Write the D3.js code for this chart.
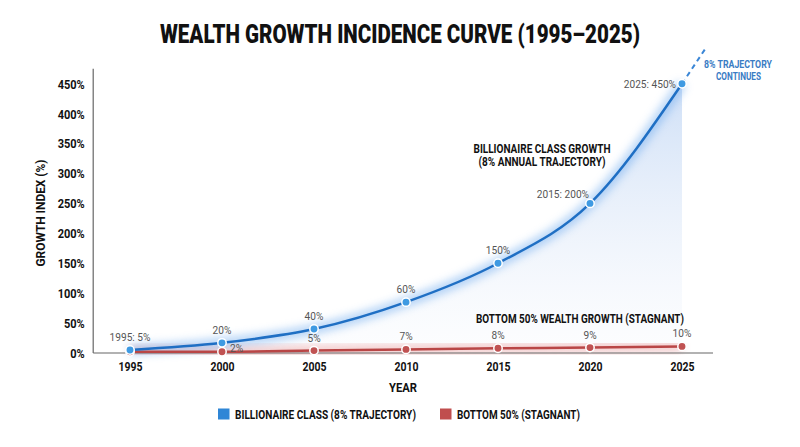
<!DOCTYPE html>
<html><head><meta charset="utf-8">
<script src="https://cdn.jsdelivr.net/npm/d3@7"></script>
<style>
html,body{margin:0;padding:0;background:#fff;}
svg{display:block;}
</style>
</head><body>
<svg id="chart" width="800" height="447"></svg>
<script>
const years = [1995, 2000, 2005, 2010, 2015, 2020, 2025];
const billionaireValues = [5, 17, 40, 85, 150, 250, 450];
const billionaireLabels = ["1995: 5%", "20%", "40%", "60%", "150%", "2015: 200%", "2025: 450%"];
const bottomValues = [2, 2, 4, 6, 8, 9, 11];
const bottomLabels = ["", "2%", "5%", "7%", "8%", "9%", "10%"];
const yTicks = [0, 50, 100, 150, 200, 250, 300, 350, 400, 450];
const continuationValue = 510;
const continuationYear = 2026.3;

const svg = d3.select("#chart");
const FONT = 'Roboto,"Noto Sans",sans-serif';
const BLUE = "#1f6fc4", BLUE_PT = "#3f9ae2", RED = "#b94646", RED_PT = "#c05252";

function fit(sel, w){ sel.attr("textLength", w).attr("lengthAdjust","spacingAndGlyphs"); return sel; }
function condense(sel, f){ sel.each(function(){ const l=this.getComputedTextLength(); d3.select(this).attr("textLength", l*f).attr("lengthAdjust","spacingAndGlyphs"); }); return sel; }

const x = d3.scaleLinear().domain([1993, 2027]).range([93.2, 718.8]);
const y = d3.scaleLinear().domain([0, 475]).range([353, 68.8]);

const defs = svg.append("defs");
const grad = defs.append("linearGradient").attr("id","areaGrad")
  .attr("gradientUnits","userSpaceOnUse").attr("x1",0).attr("x2",0).attr("y1",y(450)).attr("y2",y(0));
grad.append("stop").attr("offset","0%").attr("stop-color","#c9dcf6").attr("stop-opacity",0.9);
grad.append("stop").attr("offset","55%").attr("stop-color","#dde8f8").attr("stop-opacity",0.5);
grad.append("stop").attr("offset","100%").attr("stop-color","#eef3fb").attr("stop-opacity",0.15);
const blur = defs.append("filter").attr("id","glow").attr("x","-20%").attr("y","-50%").attr("width","140%").attr("height","200%");
blur.append("feGaussianBlur").attr("stdDeviation",4);

// Title
fit(svg.append("text").attr("x",400).attr("y",43).attr("text-anchor","middle")
  .style("font-family",FONT).style("font-weight","900").style("font-size","25px").attr("fill","#111")
  .text("WEALTH GROWTH INCIDENCE CURVE (1995–2025)"), 480);

const bData = years.map((yr,i)=>({year:yr, v:billionaireValues[i], label:billionaireLabels[i]}));
const rData = years.map((yr,i)=>({year:yr, v:bottomValues[i], label:bottomLabels[i]}));

const curve = d3.curveMonotoneX;
svg.append("path").datum(bData)
  .attr("d", d3.area().x(d=>x(d.year)).y0(y(0)).y1(d=>y(d.v)).curve(curve))
  .attr("fill","url(#areaGrad)");

const line = d3.line().x(d=>x(d.year)).y(d=>y(d.v)).curve(curve);
svg.append("path").datum(rData).attr("d",line).attr("fill","none")
  .attr("stroke","#e88a8a").attr("stroke-width",10).attr("opacity",0.45).attr("filter","url(#glow)");
svg.append("path").datum(bData).attr("d",line).attr("fill","none")
  .attr("stroke","#6aa8ee").attr("stroke-width",10).attr("opacity",0.5).attr("filter","url(#glow)");

// axes
svg.append("line").attr("x1",x(1993)).attr("x2",x(1993)).attr("y1",y(475)).attr("y2",y(0))
  .attr("stroke","#666").attr("stroke-width",1.2);
svg.append("line").attr("x1",x(1993)).attr("x2",713).attr("y1",y(0)).attr("y2",y(0))
  .attr("stroke","#666").attr("stroke-width",1.2);

const yAxis = svg.append("g").attr("transform",`translate(${x(1993)},0)`)
  .call(d3.axisLeft(y).tickValues(yTicks).tickSize(0).tickPadding(8.5).tickFormat(d=>d+"%"));
yAxis.select(".domain").remove();
condense(yAxis.selectAll("text").style("font-family",FONT).style("font-weight","bold").style("font-size","12.5px").attr("fill","#111").attr("dy","0.35em"), 0.88);

const xAxis = svg.append("g").attr("transform",`translate(0,${y(0)})`)
  .call(d3.axisBottom(x).tickValues(years).tickSize(0).tickPadding(9).tickFormat(d3.format("d")));
xAxis.select(".domain").remove();
xAxis.selectAll("text").style("font-family",FONT).style("font-weight","bold").style("font-size","12.5px").attr("fill","#111");
fit(xAxis.selectAll("text"), 24);

fit(svg.append("text").attr("x",403).attr("y",392).attr("text-anchor","middle")
  .style("font-family",FONT).style("font-weight","bold").style("font-size","12.5px").attr("fill","#111").text("YEAR"), 28);
fit(svg.append("text").attr("transform","translate(45,213) rotate(-90)").attr("text-anchor","middle")
  .style("font-family",FONT).style("font-weight","bold").style("font-size","12.5px").attr("fill","#111").text("GROWTH INDEX (%)"), 107);

// lines
svg.append("path").datum(rData).attr("d",line).attr("fill","none").attr("stroke",RED).attr("stroke-width",2.5);
svg.append("path").datum(bData).attr("d",line).attr("fill","none").attr("stroke",BLUE).attr("stroke-width",2.5);

svg.append("line").attr("x1",x(2025)).attr("y1",y(450)).attr("x2",x(continuationYear)).attr("y2",y(continuationValue))
  .attr("stroke","#3a86d6").attr("stroke-width",2).attr("stroke-dasharray","5,4");

// points
svg.selectAll(".rpt").data(rData).join("circle").attr("cx",d=>x(d.year)).attr("cy",d=>y(d.v)).attr("r",4.2)
  .attr("fill",RED_PT).attr("stroke","#fff").attr("stroke-width",1.5);
svg.selectAll(".bpt").data(bData).join("circle").attr("cx",d=>x(d.year)).attr("cy",d=>y(d.v)).attr("r",4.2)
  .attr("fill",BLUE_PT).attr("stroke","#fff").attr("stroke-width",1.5);

// labels
const bOff = {2020:{dx:-1,dy:-5,a:"end"}, 2025:{dx:-6,dy:4,a:"end"}};
condense(svg.selectAll(".blbl").data(bData).join("text")
  .attr("x",d=> x(d.year) + (bOff[d.year]?bOff[d.year].dx:0))
  .attr("y",d=> y(d.v) + (bOff[d.year]?bOff[d.year].dy:-9))
  .attr("text-anchor",d=> bOff[d.year]?bOff[d.year].a:"middle")
  .style("font-family",FONT).style("font-size","11.5px").attr("fill","#555").text(d=>d.label), 0.88);
condense(svg.selectAll(".rlbl").data(rData).join("text")
  .attr("x",d=> d.year===2000 ? x(d.year)+8 : x(d.year))
  .attr("y",d=> d.year===2000 ? y(d.v) : y(d.v)-9)
  .attr("text-anchor",d=> d.year===2000 ? "start" : "middle")
  .style("font-family",FONT).style("font-size","11.5px").attr("fill","#555").text(d=>d.label), 0.88);

// annotations
const annStyle = s => s.style("font-family",FONT).style("font-weight","bold").style("font-size","12px").attr("fill","#111");
fit(annStyle(svg.append("text").attr("x",542).attr("y",153).attr("text-anchor","middle")).text("BILLIONAIRE CLASS GROWTH"), 137);
fit(annStyle(svg.append("text").attr("x",542).attr("y",166).attr("text-anchor","middle")).text("(8% ANNUAL TRAJECTORY)"), 127);
fit(annStyle(svg.append("text").attr("x",580).attr("y",323).attr("text-anchor","middle")).text("BOTTOM 50% WEALTH GROWTH (STAGNANT)"), 208);
const contStyle = s => s.style("font-family",FONT).style("font-weight","bold").style("font-size","10.5px").attr("fill","#3a7cc4").attr("text-anchor","middle");
fit(contStyle(svg.append("text").attr("x",738).attr("y",67.5)).text("8% TRAJECTORY"), 68);
fit(contStyle(svg.append("text").attr("x",738.5).attr("y",79.5)).text("CONTINUES"), 45);

// legend
const legend = [{label:"BILLIONAIRE CLASS (8% TRAJECTORY)", color:"#2f86d6", x:218, w:181},
                {label:"BOTTOM 50% (STAGNANT)", color:"#c04e4e", x:440, w:123}];
const lg = svg.selectAll(".lg").data(legend).join("g").attr("transform",d=>`translate(${d.x},408.5)`);
lg.append("rect").attr("width",11.5).attr("height",11).attr("fill",d=>d.color);
lg.append("text").attr("x",17).attr("y",10).style("font-family",FONT).style("font-weight","bold")
  .style("font-size","12.5px").attr("fill","#111").text(d=>d.label)
  .attr("textLength",d=>d.w).attr("lengthAdjust","spacingAndGlyphs");
</script>
</body></html>
